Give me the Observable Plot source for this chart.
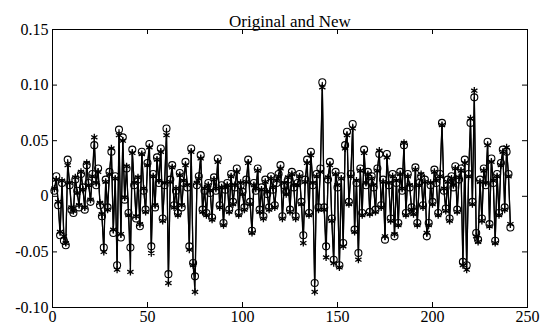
<!DOCTYPE html>
<html><head><meta charset="utf-8">
<script src="https://cdn.jsdelivr.net/npm/d3@7"></script>
<script src="https://cdn.jsdelivr.net/npm/@observablehq/plot@0.6"></script>
<style>body{margin:0;background:#fff} svg text{font-family:"Liberation Serif","Times New Roman",serif !important;}</style>
</head><body><div id="chart"></div>
<script>
const title = "Original and New";
const original = [
0.005,0.018,-0.008,-0.035,0.012,-0.04,-0.044,0.033,0.01,-0.012,
-0.015,0.015,0.005,-0.01,0.02,0.008,-0.012,0.028,0.012,-0.005,
0.02,0.046,0.01,0.025,-0.008,-0.018,-0.046,0.015,-0.01,0.022,
0.04,-0.033,0.018,-0.062,0.06,-0.037,0.053,-0.003,0.025,-0.015,
-0.046,0.042,0.01,-0.02,0.015,-0.027,0.04,0.005,-0.012,0.03,
0.047,-0.045,0.02,-0.01,0.035,0.012,0.043,-0.02,0.01,0.061,
-0.07,0.015,0.028,-0.008,0.005,-0.015,0.021,-0.01,0.012,0.031,
0.008,-0.045,0.043,-0.06,-0.072,0.01,0.018,0.037,-0.012,0.005,
-0.015,0.012,0.003,-0.019,0.017,0.005,0.034,-0.008,0.01,-0.024,
0.006,0.012,-0.012,0.02,-0.005,0.008,0.025,-0.015,0.01,0.004,
-0.01,0.015,0.033,-0.005,-0.031,0.012,0.005,0.025,-0.012,0.008,
-0.018,0.015,0.002,-0.01,0.018,0.006,-0.008,0.012,0.02,0.028,
-0.018,0.01,0.004,0.015,-0.012,0.022,0.008,-0.018,0.012,0.02,
-0.005,-0.035,0.015,0.033,-0.015,0.04,0.01,-0.078,0.02,-0.01,
0.025,0.1025,-0.01,-0.045,0.015,0.031,-0.02,-0.057,0.022,0.008,
-0.062,0.018,-0.042,0.046,0.058,-0.005,0.02,0.065,-0.03,0.012,
-0.051,0.025,-0.015,0.042,0.01,0.022,-0.014,0.018,0.008,-0.012,
0.025,0.038,-0.008,0.015,-0.039,0.038,0.01,-0.02,0.02,-0.036,
0.012,-0.024,0.022,0.005,0.046,-0.015,0.02,0.008,-0.01,-0.014,
0.026,-0.024,0.012,0.018,-0.008,0.015,-0.036,-0.024,0.01,-0.005,
0.024,0.012,-0.015,0.02,0.066,0.005,-0.011,0.015,-0.02,0.018,
0.008,0.027,-0.012,0.015,0.025,-0.059,0.033,-0.062,0.02,0.066,
-0.005,0.089,-0.033,-0.039,0.015,-0.02,0.025,0.01,0.049,-0.025,
0.034,0.012,-0.04,0.02,-0.015,0.03,0.042,-0.01,0.04,0.02,
-0.028];
const modified = [
0.007,0.015,-0.005,-0.032,0.014,-0.036,-0.042,0.028,0.012,-0.01,
-0.013,0.017,0.003,-0.008,0.022,0.006,-0.01,0.03,0.01,-0.003,
0.018,0.053,0.012,0.022,-0.006,-0.016,-0.05,0.013,-0.012,0.02,
0.043,-0.03,0.016,-0.066,0.055,-0.034,0.05,-0.001,0.027,-0.017,
-0.068,0.039,0.012,-0.018,0.017,-0.025,0.038,0.007,-0.014,0.028,
0.044,-0.051,0.018,-0.008,0.033,0.014,0.04,-0.022,0.012,0.055,
-0.078,0.013,0.026,-0.01,0.007,-0.017,0.019,-0.008,0.014,0.028,
0.01,-0.048,0.04,-0.062,-0.086,0.012,0.016,0.034,-0.014,0.007,
-0.017,0.01,0.005,-0.021,0.015,0.007,0.031,-0.01,0.008,-0.026,
0.008,0.01,-0.014,0.018,-0.007,0.01,0.022,-0.017,0.012,0.002,
-0.012,0.013,0.03,-0.007,-0.033,0.01,0.007,0.023,-0.014,0.006,
-0.02,0.013,0.004,-0.012,0.016,0.008,-0.01,0.014,0.018,0.025,
-0.02,0.012,0.002,0.017,-0.014,0.02,0.01,-0.02,0.01,0.018,
-0.007,-0.042,0.013,0.03,-0.017,0.037,0.012,-0.086,0.018,-0.012,
0.022,0.098,-0.012,-0.055,0.017,0.028,-0.022,-0.06,0.02,0.01,
-0.064,0.016,-0.045,0.043,0.055,-0.007,0.018,0.061,-0.032,0.014,
-0.057,0.023,-0.017,0.039,0.012,0.02,-0.016,0.016,0.01,-0.014,
0.023,0.041,-0.01,0.013,-0.036,0.035,0.012,-0.022,0.018,-0.034,
0.014,-0.026,0.02,0.007,0.048,-0.017,0.018,0.01,-0.012,-0.016,
0.024,-0.026,0.01,0.02,-0.01,0.013,-0.033,-0.026,0.012,-0.007,
0.022,0.014,-0.017,0.018,0.064,0.007,-0.013,0.013,-0.022,0.016,
0.01,0.025,-0.014,0.017,0.023,-0.062,0.03,-0.066,0.018,0.07,
-0.007,0.095,-0.036,-0.041,0.013,-0.022,0.023,0.012,0.046,-0.027,
0.031,0.014,-0.042,0.018,-0.017,0.028,0.04,-0.012,0.044,0.018,
-0.025];
const xTicks = [0, 50, 100, 150, 200, 250];
const yTicks = [-0.10, -0.05, 0, 0.05, 0.10, 0.15];
const yTickLabels = ["-0.10", "-0.05", "0", "0.05", "0.10", "0.15"];

const rows = original.map((v, i) => ({i: i + 1, orig: v, mod: modified[i]}));
const W = 544, H = 333, mT = 29, mB = 26, mL = 52, mR = 17;
const innerH = H - mT - mB, innerW = W - mL - mR, tl = 5;
const serif = "'Liberation Serif', 'Times New Roman', serif";

const chart = Plot.plot({
  width: W, height: H,
  marginTop: mT, marginBottom: mB, marginLeft: mL, marginRight: mR,
  style: {fontFamily: serif, fontSize: "16px", background: "white", color: "black"},
  x: {domain: [0, 250], label: null},
  y: {domain: [-0.1, 0.15], label: null},
  marks: [
    Plot.axisX(xTicks, {tickSize: 0, tickPadding: 3, fontSize: 16, fontFamily: serif, label: null, tickFormat: d => String(d)}),
    Plot.axisY(yTicks, {tickSize: 0, tickPadding: 4, fontSize: 16, fontFamily: serif, label: null, tickFormat: d => yTickLabels[yTicks.indexOf(d)]}),
    Plot.tickX(xTicks, {x: d => d, insetTop: innerH - tl, stroke: "black"}),
    Plot.tickX(xTicks, {x: d => d, insetBottom: innerH - tl, stroke: "black"}),
    Plot.tickY(yTicks, {y: d => d, insetRight: innerW - tl, stroke: "black"}),
    Plot.tickY(yTicks, {y: d => d, insetLeft: innerW - tl, stroke: "black"}),
    Plot.line(rows, {x: "i", y: "orig", stroke: "black", strokeWidth: 1.2}),
    Plot.line(rows, {x: "i", y: "mod", stroke: "black", strokeWidth: 1.2}),
    Plot.dot(rows, {x: "i", y: "orig", symbol: "circle", r: 3.5, stroke: "black", fill: "none", strokeWidth: 1.1}),
    Plot.dot(rows, {x: "i", y: "mod", symbol: "asterisk", r: 3.4, stroke: "black", strokeWidth: 1.3}),
    Plot.frame({stroke: "black", strokeWidth: 1}),
    Plot.text([title], {text: d => d, frameAnchor: "top", dy: -3, lineAnchor: "bottom", fontSize: 17, fontFamily: serif})
  ]
});
document.getElementById("chart").appendChild(chart);
</script>
</body></html>
